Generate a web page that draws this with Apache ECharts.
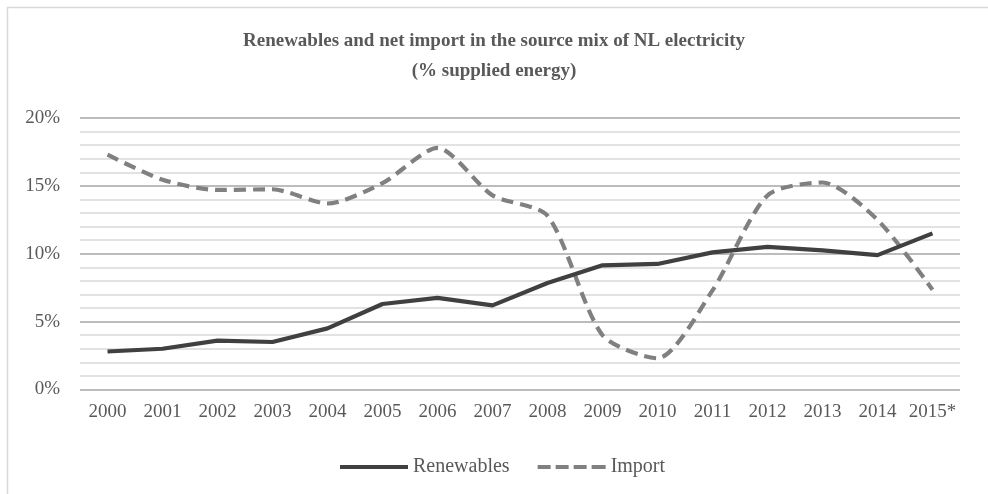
<!DOCTYPE html>
<html>
<head>
<meta charset="utf-8">
<script src="https://cdn.jsdelivr.net/npm/echarts@6/dist/echarts.min.js"></script>
<style>
  html, body { margin: 0; padding: 0; background: #fff; }
  #chart { width: 988px; height: 494px; }
</style>
</head>
<body>
<div id="chart"></div>
<script>
// Share of supplied electricity in the Netherlands, percent
const years = ['2000','2001','2002','2003','2004','2005','2006','2007','2008','2009','2010','2011','2012','2013','2014','2015*'];
const renewables = [2.8, 3.0, 3.6, 3.5, 4.5, 6.3, 6.75, 6.2, 7.85, 9.15, 9.25, 10.1, 10.5, 10.25, 9.9, 11.5];
const netImport = [17.3, 15.45, 14.7, 14.75, 13.7, 15.2, 17.8, 14.3, 12.8, 4.0, 2.3, 7.3, 14.3, 15.25, 12.5, 7.35];
const yTicks = { min: 0, max: 20, step: 5 };

const textColor = '#595959';
const serif = '"Liberation Serif", "DejaVu Serif", serif';

// legend swatches: a solid bar and four dashes
const solidIcon = 'path://M0,0H68V4H0Z';
const dashIcon = 'path://M0,0H13V4H0Z M18,0H31V4H18Z M36,0H49V4H36Z M54,0H68V4H54Z';

const chart = echarts.init(document.getElementById('chart'), null, { renderer: 'canvas' });
chart.setOption({
  backgroundColor: '#ffffff',
  animation: false,
  graphic: [{
    type: 'rect',
    shape: { x: 7.5, y: 7.5, width: 1200, height: 800 },
    style: { fill: 'none', stroke: '#d9d9d9', lineWidth: 1.5 },
    silent: true
  }],
  title: {
    text: 'Renewables and net import in the source mix of NL electricity\n(% supplied energy)',
    left: 'center',
    top: 21,
    textStyle: {
      fontFamily: serif,
      fontWeight: 'bold',
      fontSize: 19,
      color: textColor,
      lineHeight: 30
    }
  },
  legend: {
    left: 335,
    top: 452,
    itemWidth: 68,
    itemHeight: 4,
    itemGap: 28,
    textStyle: { fontFamily: serif, fontSize: 20, color: textColor },
    data: [
      { name: 'Renewables', icon: solidIcon, itemStyle: { color: '#404040' } },
      { name: 'Import', icon: dashIcon, itemStyle: { color: '#808080' } }
    ]
  },
  grid: { left: 80, right: 28, top: 118, bottom: 104.5, containLabel: false },
  xAxis: {
    type: 'category',
    data: years,
    boundaryGap: true,
    axisLine: { show: false },
    axisTick: { show: false },
    axisLabel: { interval: 0, fontFamily: serif, fontSize: 19, color: textColor, margin: 13 }
  },
  yAxis: {
    type: 'value',
    min: yTicks.min,
    max: yTicks.max,
    interval: yTicks.step,
    axisLine: { show: false },
    axisTick: { show: false },
    axisLabel: { fontFamily: serif, fontSize: 19, color: textColor, margin: 20, formatter: '{value}%' },
    splitLine: { lineStyle: { color: '#a6a6a6', width: 1.5 } },
    minorTick: { show: false, splitNumber: 5 },
    minorSplitLine: { show: true, lineStyle: { color: '#d9d9d9', width: 1.5 } }
  },
  series: [
    {
      name: 'Renewables',
      type: 'line',
      data: renewables,
      symbol: 'none',
      lineStyle: { color: '#404040', width: 4.2, join: 'round' },
      itemStyle: { color: '#404040' },
      z: 3
    },
    {
      name: 'Import',
      type: 'line',
      data: netImport,
      symbol: 'none',
      smooth: 0.25,
      lineStyle: { color: '#808080', width: 4.2, type: [12, 7], cap: 'butt', join: 'round' },
      itemStyle: { color: '#808080' },
      z: 2
    }
  ]
});
</script>
</body>
</html>
